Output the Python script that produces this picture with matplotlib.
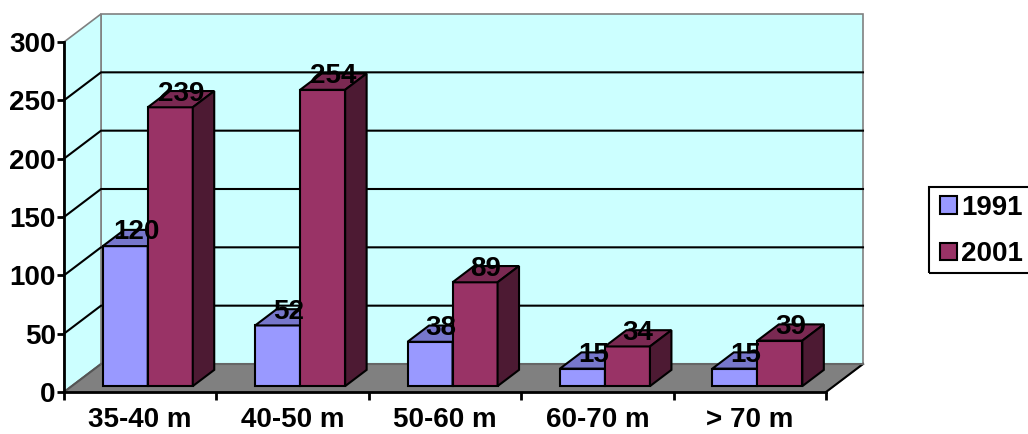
import matplotlib
matplotlib.use("Agg")
import matplotlib.pyplot as plt
from matplotlib.patches import Polygon, Patch, Rectangle
from matplotlib.lines import Line2D

plt.rcParams['font.family'] = ['Liberation Sans', 'DejaVu Sans']
plt.rcParams['font.weight'] = 'bold'

categories = ['35-40 m', '40-50 m', '50-60 m', '60-70 m', '> 70 m']
series_names = ['1991', '2001']
values_1991 = [120, 52, 38, 15, 15]
values_2001 = [239, 254, 89, 34, 39]
y_ticks = [0, 50, 100, 150, 200, 250, 300]

front_colors = ['#9999FF', '#993366']
top_colors = ['#7777CC', '#7A2952']
side_colors = ['#5C5C99', '#4D1A33']

FS = 20
W, H, DPI = 1028, 434, 100
fig = plt.figure(figsize=(W / DPI, H / DPI), dpi=DPI)
# front plane of the 3-D plot box, in pixels
left_px, right_px, base_px, top_px = 64, 826, 392, 42
ax = fig.add_axes([left_px / W, 1 - base_px / H,
                   (right_px - left_px) / W, (base_px - top_px) / H])
ncat = len(categories)
ymax = y_ticks[-1]
ax.set_xlim(0, ncat)
ax.set_ylim(0, ymax)
ax.patch.set_visible(False)

# depth direction in data units (37 px right, 28 px up)
px_x = ncat / (right_px - left_px)
px_y = ymax / (base_px - top_px)
DX, DY = 37 * px_x, 28 * px_y


def proj(x, v, d):
    return (x + d * DX, v + d * DY)


def poly(pts, fc, ec='black', lw=1.5, z=1):
    p = Polygon([proj(*p) for p in pts], closed=True, facecolor=fc,
                edgecolor=ec, linewidth=lw, zorder=z, clip_on=False,
                joinstyle='miter')
    ax.add_patch(p)


# walls and floor
poly([(0, 0, 1), (ncat, 0, 1), (ncat, ymax, 1), (0, ymax, 1)], '#CCFFFF', ec='#808080', lw=1.2, z=0)
poly([(0, 0, 0), (0, 0, 1), (0, ymax, 1), (0, ymax, 0)], '#CCFFFF', ec='#808080', lw=1.2, z=0)
poly([(0, 0, 0), (ncat, 0, 0), (ncat, 0, 1), (0, 0, 1)], '#808080', ec='#808080', lw=1.2, z=0.5)

for v in y_ticks[1:-1]:
    pts = [proj(0, v, 0), proj(0, v, 1), proj(ncat, v, 1)]
    ax.add_line(Line2D([p[0] for p in pts], [p[1] for p in pts], color='black',
                       lw=1.5, zorder=0.3, clip_on=False))
# floor edges
for a, b, c in [((0, 0, 0), (0, 0, 1), '#555555'), ((ncat, 0, 0), (ncat, 0, 1), 'black'),
                ((0, 0, 1), (ncat, 0, 1), '#666666')]:
    pa, pb = proj(*a), proj(*b)
    ax.add_line(Line2D([pa[0], pb[0]], [pa[1], pb[1]], color=c, lw=1.5,
                       zorder=0.6, clip_on=False))

# bars
gap = 31 * px_x
bw = 45 * px_x
d0, d1 = 0.21, 0.79
for i in range(ncat):
    for s, vals in enumerate([values_1991, values_2001]):
        v = vals[i]
        x0 = i + gap + s * bw
        x1 = x0 + bw
        poly([(x0, 0, d0), (x1, 0, d0), (x1, v, d0), (x0, v, d0)], front_colors[s], z=2)
        poly([(x0, v, d0), (x1, v, d0), (x1, v, d1), (x0, v, d1)], top_colors[s], z=2)
        poly([(x1, 0, d0), (x1, 0, d1), (x1, v, d1), (x1, v, d0)], side_colors[s], z=2)
        cx, cy = proj((x0 + x1) / 2, v, 0.5)
        ax.annotate(str(v), (cx, cy), xytext=(0, 4), textcoords='offset points',
                    ha='center', va='center', fontsize=FS, fontweight='bold',
                    zorder=5, annotation_clip=False)

# axes
for sp in ['top', 'right']:
    ax.spines[sp].set_visible(False)
ax.spines['left'].set_linewidth(2)
ax.spines['bottom'].set_linewidth(2)
ax.spines['left'].set_zorder(3)
ax.spines['bottom'].set_zorder(3)
ax.set_yticks(y_ticks)
ax.set_yticklabels([str(t) for t in y_ticks])
ax.tick_params(axis='y', direction='out', length=5, width=2, pad=1, labelsize=FS)
ax.set_xticks([i + 0.5 for i in range(ncat)])
ax.set_xticklabels(categories)
ax.tick_params(axis='x', which='major', length=0, pad=11, labelsize=FS)
ax.set_xticks(list(range(ncat + 1)), minor=True)
ax.tick_params(axis='x', which='minor', direction='out', length=6, width=2)
for lab in ax.get_xticklabels() + ax.get_yticklabels():
    lab.set_fontweight('bold')

# legend; its box runs past the right edge of the figure
handles = [Patch(facecolor=front_colors[k], edgecolor='black', linewidth=1.5)
           for k in range(2)]
leg = fig.legend(handles, series_names, loc='center left',
                 bbox_to_anchor=(929 / W, 1 - 231 / H),
                 frameon=False,
                 prop={'weight': 'bold', 'size': FS},
                 handlelength=0.6, handleheight=0.6, handletextpad=0.15,
                 labelspacing=0.75, borderpad=0.4, borderaxespad=0)
fig.add_artist(Rectangle((929 / W, 1 - 273 / H), 130 / W, 86 / H,
                         transform=fig.transFigure, facecolor='none',
                         edgecolor='black', linewidth=1.5, clip_on=False))

fig.savefig('out.png', dpi=DPI)
